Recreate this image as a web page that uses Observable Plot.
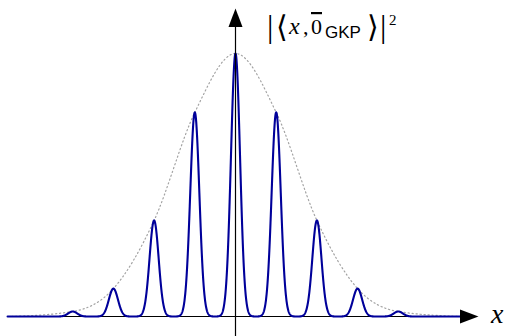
<!DOCTYPE html>
<html>
<head>
<meta charset="utf-8">
<script src="https://cdn.jsdelivr.net/npm/d3@7"></script>
<script src="https://cdn.jsdelivr.net/npm/@observablehq/plot@0.6"></script>
<style>
  html, body { margin: 0; padding: 0; background: #fff; }
  #chart { position: relative; width: 508px; height: 336px; }
</style>
</head>
<body>
<div id="chart"></div>
<script>
// Comb peaks of the finite-energy GKP state |<x, 0_GKP>|^2, in units of the lattice spacing
const peakPositions = [-4, -3, -2, -1, 0, 1, 2, 3, 4];
const peakHeights   = [0.019, 0.106, 0.365, 0.776, 1, 0.776, 0.365, 0.106, 0.019];
const peakWidth = 0.112;         // standard deviation of each narrow peak
const xExtent = [-5.6, 5.6];     // span of the drawn curve

// Envelope: passes through the peak tops and fades to zero at both ends
const envelopeX = [-5.5, ...peakPositions, 5.5];
const envelopeY = [0.0, ...peakHeights, 0.0];

// Sample the comb (sum of narrow Gaussian peaks)
const comb = d3.range(xExtent[0], xExtent[1] + 1e-9, 0.004).map(x => ({
  x,
  y: d3.sum(peakPositions, (p, i) => peakHeights[i] * Math.exp(-((x - p) ** 2) / (2 * peakWidth ** 2)))
}));
const envelope = envelopeX.map((x, i) => ({x, y: envelopeY[i]}));

// Arrow axes
const xAxisStart = -5.6, xAxisTip = 5.97;
const yAxisStart = -0.08, yAxisTip = 1.171;
const headLength = 18.5;

// Filled arrowhead with its tip at the origin, pointing right
const arrowHead = {
  draw(ctx, size) {
    const r = Math.sqrt(size / Math.PI);
    ctx.moveTo(0, 0);
    ctx.lineTo(-r, -0.38 * r);
    ctx.lineTo(-r, 0.38 * r);
    ctx.closePath();
  }
};

const plot = Plot.plot({
  width: 508,
  height: 336,
  marginTop: 0, marginRight: 0, marginBottom: 0, marginLeft: 0,
  x: {domain: [-235 / 40.7, 273 / 40.7], axis: null},
  y: {domain: [-20 / 263, 316 / 263], axis: null},
  marks: [
    Plot.ruleY([0], {x1: xAxisStart, x2: xAxisTip - 0.3, stroke: "#000", strokeWidth: 1}),
    Plot.line(envelope, {x: "x", y: "y", curve: "monotone-x", stroke: "#a3a3a3",
      strokeWidth: 1.2, strokeDasharray: "1.2,2.8"}),
    Plot.line(comb, {x: "x", y: "y", stroke: "#00009a", strokeWidth: 2.1, strokeLinejoin: "round"}),
    Plot.ruleX([0], {y1: yAxisStart, y2: yAxisTip - 0.05, stroke: "#000", strokeWidth: 1.2}),
    Plot.dot([{x: xAxisTip, y: 0}], {x: "x", y: "y", symbol: arrowHead, r: headLength, fill: "#000", stroke: "none"}),
    Plot.dot([{x: 0, y: yAxisTip}], {x: "x", y: "y", symbol: arrowHead, r: headLength, rotate: -90, fill: "#000", stroke: "none"})
  ]
});

document.getElementById("chart").append(plot);

// Axis labels
const svg = d3.select(plot);
const serif = "'Liberation Serif', serif";
const sans = "'Liberation Sans', sans-serif";
const label = svg.append("g").attr("fill", "#000").attr("text-anchor", "start");

const pieces = [
  {t: "|",        x: 267, y: 37, size: 32, font: serif},
  {t: "\u27E8",   x: 276, y: 37, size: 30, font: serif},
  {t: "x",        x: 289, y: 34, size: 24, font: serif, italic: true},
  {t: ",",        x: 303, y: 34, size: 22, font: serif},
  {t: "0",        x: 311, y: 34, size: 22, font: serif, bar: true},
  {t: "GKP",      x: 325, y: 38, size: 17, font: sans},
  {t: "\u27E9",   x: 367, y: 37, size: 30, font: serif},
  {t: "|",        x: 380, y: 37, size: 32, font: serif},
  {t: "2",        x: 389, y: 25, size: 15, font: serif},
  {t: "x",        x: 491, y: 323, size: 28, font: serif, italic: true}
];
for (const p of pieces) {
  label.append("text")
    .attr("x", p.x).attr("y", p.y)
    .attr("text-anchor", "start")
    .attr("font-family", p.font)
    .attr("font-size", p.size)
    .attr("font-style", p.italic ? "italic" : "normal")
    .attr("text-decoration", p.bar ? "overline" : "none")
    .text(p.t);
}
</script>
</body>
</html>
